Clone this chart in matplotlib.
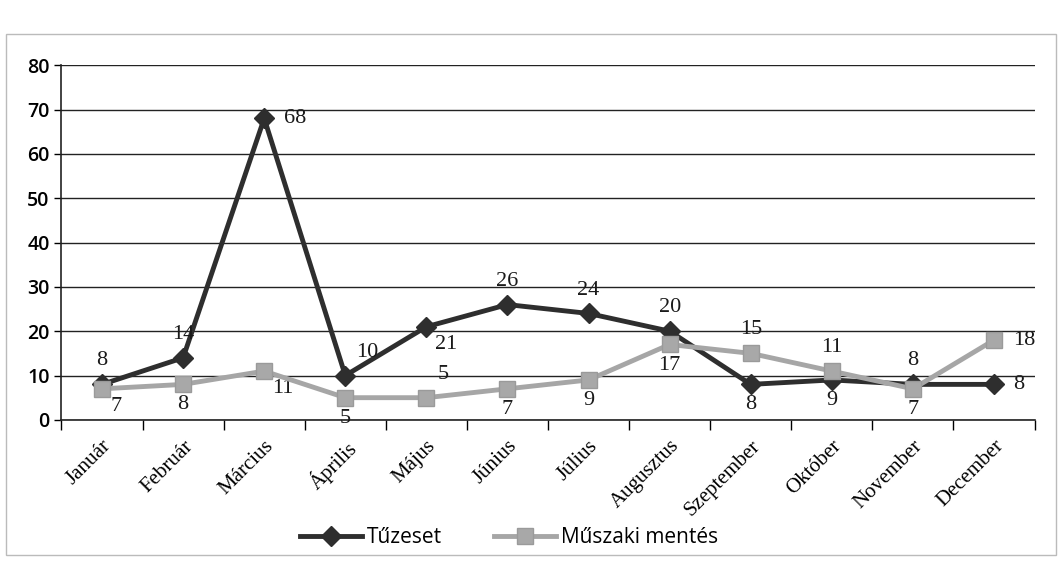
import matplotlib
matplotlib.use("Agg")
import matplotlib.pyplot as plt
import numpy as np

MONTHS = ["Január", "Február", "Március", "Április", "Május", "Június",
          "Július", "Augusztus", "Szeptember", "Október", "November", "December"]
TUZESET = [8, 14, 68, 10, 21, 26, 24, 20, 8, 9, 8, 8]
MUSZAKI = [7, 8, 11, 5, 5, 7, 9, 17, 15, 11, 7, 18]
SERIES_NAMES = ["Tűzeset", "Műszaki mentés"]
Y_TICKS = [0, 10, 20, 30, 40, 50, 60, 70, 80]

# where each data label sits relative to its point
TUZ_POS = ["above", "above", "right", "aboveright", "belowright", "above",
           "above", "above", "below", "below", "above", "right"]
MUS_POS = ["belowright", "below", "belowright", "below", "aboveright", "below",
           "below", "below", "above", "above", "below", "right"]
OFFSETS = {"above": (0, 10, "center", "bottom"),
           "below": (0, -8, "center", "top"),
           "right": (14, 0, "left", "center"),
           "aboveright": (8, 10, "left", "bottom"),
           "belowright": (6, -6, "left", "top")}

SERIF = "Liberation Serif"
SANS = "Open Sans"

fig = plt.figure(figsize=(10.6, 5.72), dpi=100)
ax = fig.add_axes([0.058, 0.266, 0.918, 0.62])

x = np.arange(len(MONTHS))
ax.plot(x, TUZESET, color="#2e2e2e", lw=3.5, marker="D", ms=10,
        mec="#2e2e2e", mfc="#2e2e2e", label=SERIES_NAMES[0], zorder=3)
ax.plot(x, MUSZAKI, color="#a6a6a6", lw=3.5, marker="s", ms=12,
        mec="#9a9a9a", mfc="#a8a8a8", label=SERIES_NAMES[1], zorder=4)

for vals, pos in ((TUZESET, TUZ_POS), (MUSZAKI, MUS_POS)):
    for i, (v, p) in enumerate(zip(vals, pos)):
        dx, dy, ha, va = OFFSETS[p]
        ax.annotate(str(v), (i, v), xytext=(dx, dy), textcoords="offset points",
                    ha=ha, va=va, fontsize=16, family=SERIF, color="#1a1a1a")

ax.set_xlim(-0.5, len(MONTHS) - 0.5)
ax.set_ylim(0, 80)
ax.set_yticks(Y_TICKS)
ax.tick_params(axis="y", labelsize=14, length=5, width=1)
for lab in ax.get_yticklabels():
    lab.set_family(SANS)
    lab.set_fontweight("semibold")
ax.yaxis.grid(True, color="#222222", lw=1)
ax.set_axisbelow(True)

# category ticks sit between months, Excel style
ax.set_xticks(np.arange(-0.5, len(MONTHS), 1))
ax.set_xticklabels([])
ax.set_xticks(x, minor=True)
ax.set_xticklabels(MONTHS, minor=True, rotation=45, ha="right",
                   rotation_mode="anchor", fontsize=15, family=SERIF)
ax.tick_params(axis="x", which="major", length=7, width=1)
ax.tick_params(axis="x", which="minor", length=0, pad=12)

for side in ("top", "right"):
    ax.spines[side].set_visible(False)
for side in ("left", "bottom"):
    ax.spines[side].set_color("#222222")
    ax.spines[side].set_linewidth(1.2)

leg = fig.legend(loc="center", bbox_to_anchor=(0.48, 0.06), ncol=2,
                 frameon=False, handlelength=3, handletextpad=0.2,
                 columnspacing=2.5, prop={"family": SANS, "size": 15})

fig.patches.append(plt.Rectangle((0.006, 0.03), 0.99, 0.91, transform=fig.transFigure,
                                 fill=False, edgecolor="#bbbbbb", lw=1))

fig.savefig("out.png", dpi=100)
